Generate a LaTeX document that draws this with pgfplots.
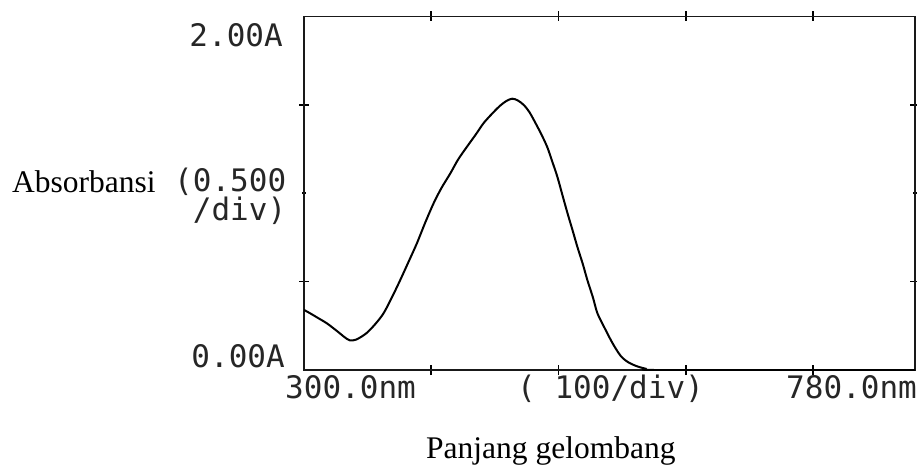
\documentclass[border=0pt]{standalone}
\usepackage{pgfplots}
\pgfplotsset{compat=1.18}
\usepackage{fontspec}
\setmainfont{Liberation Serif}
\newfontfamily\lcd{DejaVu Sans Mono}
\begin{document}
\begin{tikzpicture}
\useasboundingbox (0pt,0pt) rectangle (917pt,466pt);
\begin{axis}[
  at={(304pt,96pt)}, anchor=south west,
  scale only axis, width=611pt, height=353.5pt,
  xmin=300, xmax=780, ymin=0, ymax=2,
  xtick={400,500,600,700}, ytick={0.5,1.5}, minor ytick={1},
  xticklabels={}, yticklabels={},
  tick align=center, major tick length=10pt, minor tick length=4pt,
  tick style={black, line width=1.6pt},
  axis line style={black!90, line width=1.8pt},
]
\addplot[black, line width=2pt, smooth] coordinates {
(300,0.340) (305,0.320) (312,0.290) (318,0.264) (326,0.220) (332,0.185)
(336,0.168) (341,0.172) (349,0.208) (356,0.260) (362.5,0.321) (369,0.410)
(375.6,0.509) (382,0.610) (388.7,0.717) (395,0.830) (401.8,0.943) (408,1.030)
(415,1.113) (421,1.190) (428,1.263) (435,1.333) (441,1.396) (448,1.452)
(454,1.495) (459,1.522) (463.5,1.535) (468,1.525) (472.7,1.499) (477,1.460)
(480.6,1.414) (486,1.340) (491,1.263) (495,1.180) (499,1.094) (503,0.990)
(507,0.887) (511,0.790) (514.7,0.698) (519,0.600) (522.6,0.509) (527,0.410)
(530.5,0.321) (536,0.240) (541,0.170) (545,0.120) (549,0.078) (553,0.052)
(557,0.035) (562,0.020) (568,0.008) (575,0.000) (680,0.000) (780,0.000)
};
\end{axis}
\begin{scope}[every node/.style={inner sep=0pt, font=\lcd\fontsize{31}{33}\selectfont, text=black!85}]
\node[anchor=base east] at (283pt,419pt) {2.00A};
\node[anchor=base east] at (285pt,99pt) {0.00A};
\node[anchor=base west] at (174pt,274pt) {(0.500};
\node[anchor=base west] at (174pt,245pt) {\ /div)};
\node[anchor=base west] at (285pt,68pt) {300.0nm};
\node[anchor=base west] at (517pt,68pt) {(\ 100/div)};
\node[anchor=base west] at (786pt,68pt) {780.0nm};
\end{scope}
\node[anchor=base west, inner sep=0pt, font=\fontsize{31.5}{33}\selectfont] at (12pt,273pt) {Absorbansi};
\node[anchor=base west, inner sep=0pt, font=\fontsize{31.5}{33}\selectfont] at (426pt,8pt) {Panjang gelombang};
\end{tikzpicture}
\end{document}
